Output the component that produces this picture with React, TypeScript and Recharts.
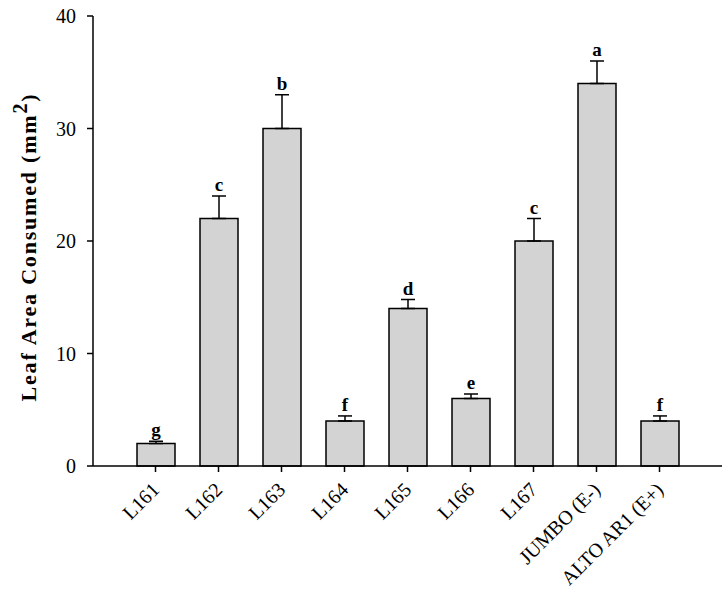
import React from 'react';
import { BarChart, Bar, XAxis, YAxis, ErrorBar } from 'recharts';

const categories = ['L161', 'L162', 'L163', 'L164', 'L165', 'L166', 'L167', 'JUMBO (E-)', 'ALTO AR1 (E+)'];
const means = [2, 22, 30, 4, 14, 6, 20, 34, 4];
const errors = [0.2, 2, 3, 0.45, 0.8, 0.4, 2, 2, 0.45];
const letters = ['g', 'c', 'b', 'f', 'd', 'e', 'c', 'a', 'f'];
const yTicks = [0, 10, 20, 30, 40];

const data = categories.map((name, i) => ({
    name,
    mean: means[i],
    err: [0, errors[i]],
    up: errors[i],
    letter: letters[i],
}));

const FONT = '"Liberation Serif", "Times New Roman", serif';

const BarWithLetter = (props: any) => {
    const { x, y, width, height, payload } = props;
    const perUnit = payload.mean ? height / payload.mean : 0;
    const top = y - payload.up * perUnit;
    return (
        <g>
            <rect x={x} y={y} width={width} height={height} fill="#d3d3d3" stroke="#000" strokeWidth={1.5} />
            <text x={x + width / 2} y={top - 5} textAnchor="middle" fontFamily={FONT} fontWeight="bold" fontSize={19} fill="#000">
                {payload.letter}
            </text>
        </g>
    );
};

const XTick = (props: any) => {
    const { x, y, payload } = props;
    return (
        <g transform={`translate(${x + 5},${y + 17}) rotate(-45)`}>
            <text x={0} y={0} textAnchor="end" fontFamily={FONT} fontSize={20} fill="#000">
                {payload.value}
            </text>
        </g>
    );
};

const YLabel = () => (
    <text transform="translate(36,247) rotate(-90)" textAnchor="middle" fontFamily={FONT} fontWeight="bold" fontSize={22} letterSpacing={1.8} fill="#000">
        Leaf Area Consumed (mm<tspan dy={-9} fontSize={20}>2</tspan><tspan dy={9}>)</tspan>
    </text>
);

export default function App() {
    return (
        <div style={{ position: 'absolute', left: 0, top: 0, width: 728, height: 596, background: '#fff' }}>
            <BarChart width={728} height={596} data={data} margin={{ top: 16, right: 6, left: 0, bottom: 0 }}>
                <XAxis
                    dataKey="name"
                    interval={0}
                    height={130}
                    padding={{ left: 31, right: 31 }}
                    tickSize={6}
                    tick={<XTick />}
                    axisLine={{ stroke: '#000', strokeWidth: 1.5 }}
                    tickLine={{ stroke: '#000', strokeWidth: 1.5 }}
                />
                <YAxis
                    width={93}
                    domain={[0, 40]}
                    ticks={yTicks}
                    tickSize={6}
                    tickMargin={11}
                    tick={{ fontFamily: FONT, fontSize: 20, fill: '#000' }}
                    axisLine={{ stroke: '#000', strokeWidth: 1.5 }}
                    tickLine={{ stroke: '#000', strokeWidth: 1.5 }}
                    label={{ content: <YLabel /> }}
                />
                <Bar dataKey="mean" barSize={38} isAnimationActive={false} shape={<BarWithLetter />}>
                    <ErrorBar dataKey="err" width={7} stroke="#000" strokeWidth={1.5} direction="y" />
                </Bar>
            </BarChart>
        </div>
    );
}
